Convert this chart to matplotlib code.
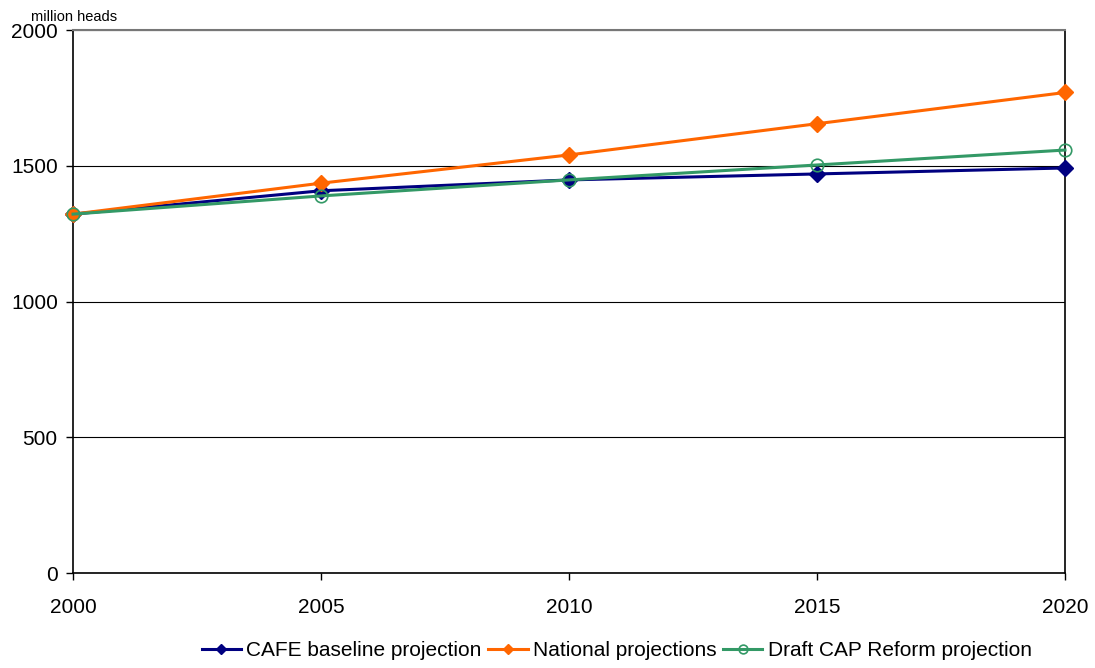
import matplotlib
matplotlib.use('Agg')
import matplotlib.pyplot as plt

plt.rcParams['font.family'] = ['Liberation Sans', 'DejaVu Sans']

years = [2000, 2005, 2010, 2015, 2020]
cafe = [1322, 1408, 1448, 1470, 1492]
national = [1322, 1436, 1540, 1655, 1770]
draft_cap = [1322, 1389, 1448, 1503, 1558]

fig = plt.figure(figsize=(10.95, 6.68), dpi=100)
ax = fig.add_axes([0.0667, 0.1422, 0.9059, 0.8128])

ax.plot(years, cafe, color='#000080', lw=2.2, marker='D', ms=8, label='CAFE baseline projection',
        zorder=3, clip_on=False)
ax.plot(years, national, color='#FF6600', lw=2.2, marker='D', ms=8, label='National projections',
        zorder=3, clip_on=False)
ax.plot(years, draft_cap, color='#339966', lw=2.2, marker='o', ms=9, mfc='none', mew=1.2,
        label='Draft CAP Reform projection', zorder=4, clip_on=False)

ax.set_xlim(2000, 2020)
ax.set_ylim(0, 2000)
ax.set_xticks(years)
ax.set_yticks([0, 500, 1000, 1500, 2000])
ax.yaxis.grid(True, color='black', lw=0.8)
ax.set_axisbelow(True)
ax.tick_params(axis='both', labelsize=15, length=5, width=1, direction='out')
ax.tick_params(axis='x', pad=13)
ax.tick_params(axis='y', pad=6)
for s in ['left', 'right', 'bottom']:
    ax.spines[s].set_color('black')
    ax.spines[s].set_linewidth(1.2)
ax.spines['top'].set_color('#777777')
ax.spines['top'].set_linewidth(1.5)

fig.text(0.028, 0.968, 'million heads', fontsize=10.5)

ax.legend(loc='lower center', bbox_to_anchor=(0.548, -0.195), ncol=3, frameon=False,
          fontsize=15, handlelength=1.9, handletextpad=0.25, columnspacing=0.3,
          markerscale=0.7)

fig.savefig('out.png', dpi=100)
